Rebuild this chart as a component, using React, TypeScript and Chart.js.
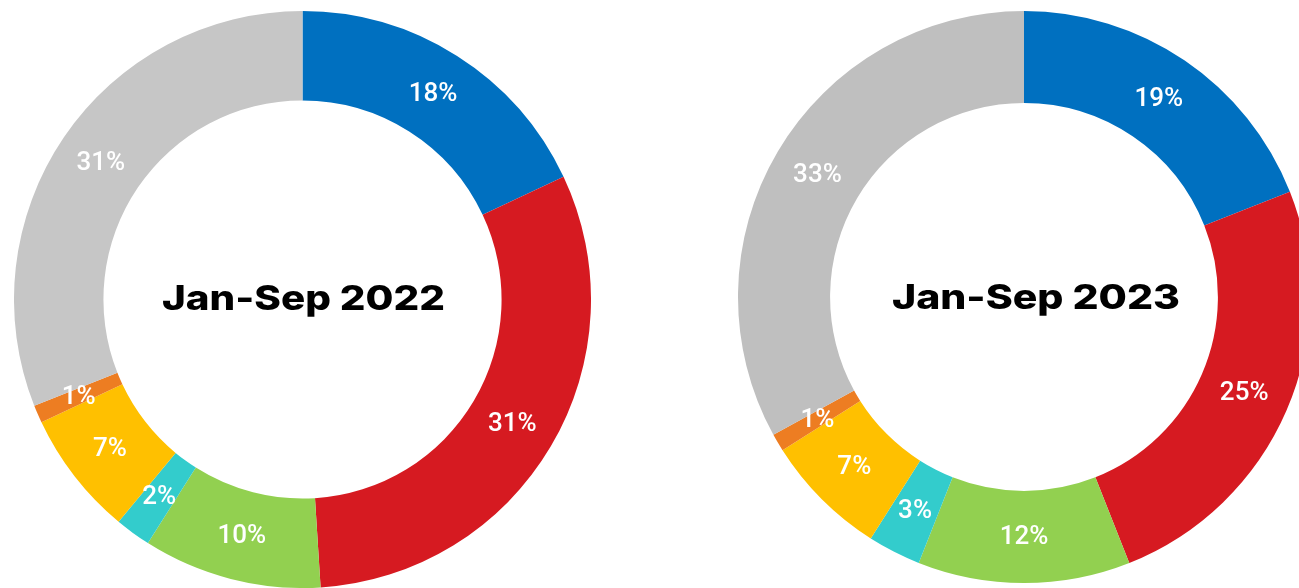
import React, { useEffect, useRef } from "react";
import { Chart, registerables } from "chart.js";

Chart.register(...registerables);

// ---- data ----
const categories = ["Segment 1", "Segment 2", "Segment 3", "Segment 4", "Segment 5", "Segment 6", "Segment 7"];
const values2022 = [18, 31, 10, 2, 7, 1, 31];
const values2023 = [19, 25, 12, 3, 7, 1, 33];
const titles = ["Jan-Sep 2022", "Jan-Sep 2023"];
const colors2022 = ["#0070C0", "#D61A21", "#92D050", "#33CCCC", "#FFC000", "#ED7D22", "#C6C6C6"];
const colors2023 = ["#0070C0", "#D61A21", "#92D050", "#33CCCC", "#FFC000", "#ED7D22", "#BFBFBF"];

const sliceLabelPlugin = {
  id: "sliceLabels",
  afterDatasetsDraw(chart: any) {
    const ctx = chart.ctx;
    const meta = chart.getDatasetMeta(0);
    const data = chart.data.datasets[0].data;
    ctx.save();
    ctx.fillStyle = "#FFFFFF";
    ctx.font = "500 26px Roboto, 'Noto Sans', sans-serif";
    ctx.textAlign = "center";
    ctx.textBaseline = "middle";
    meta.data.forEach((arc: any, i: number) => {
      const p = arc.tooltipPosition(false);
      ctx.fillText(`${data[i]}%`, p.x, p.y + 1);
    });
    ctx.restore();
  },
};

const centerTextPlugin = {
  id: "centerText",
  afterDraw(chart: any, _args: any, opts: any) {
    const ctx = chart.ctx;
    const meta = chart.getDatasetMeta(0);
    const arc = meta.data[0];
    if (!arc) return;
    const cx = arc.x + (opts.dx || 0);
    const cy = arc.y + (opts.dy || 0);
    ctx.save();
    ctx.fillStyle = "#000000";
    ctx.font = "800 34px Inter, 'DejaVu Sans', sans-serif";
    ctx.textAlign = "center";
    ctx.textBaseline = "alphabetic";
    const w = ctx.measureText(opts.text).width;
    const sx = opts.width ? opts.width / w : 1;
    ctx.translate(cx, cy);
    ctx.scale(sx, 1);
    ctx.fillText(opts.text, 0, 0);
    ctx.restore();
  },
};

type DonutProps = {
  values: number[];
  colors: string[];
  title: string;
  cutout: string;
  left: number;
  top: number;
  size: number;
  textWidth: number;
  textDx: number;
  textDy: number;
};

function Donut(props: DonutProps) {
  const ref = useRef<HTMLCanvasElement | null>(null);
  useEffect(() => {
    if (!ref.current) return;
    const chart = new Chart(ref.current, {
      type: "doughnut",
      data: {
        labels: categories,
        datasets: [
          {
            data: props.values,
            backgroundColor: props.colors,
            borderWidth: 0,
          },
        ],
      },
      options: {
        responsive: false,
        animation: false,
        devicePixelRatio: 1,
        cutout: props.cutout,
        rotation: 0,
        layout: { padding: 0 },
        plugins: {
          legend: { display: false },
          tooltip: { enabled: false },
          // @ts-ignore
          centerText: { text: props.title, width: props.textWidth, dx: props.textDx, dy: props.textDy },
        },
      } as any,
      plugins: [sliceLabelPlugin, centerTextPlugin],
    });
    return () => chart.destroy();
  }, []);
  return (
    <canvas
      ref={ref}
      width={props.size}
      height={props.size}
      style={{ position: "absolute", left: props.left, top: props.top, width: props.size, height: props.size }}
    />
  );
}

export default function App() {
  return (
    <div
      style={{
        position: "fixed",
        left: 0,
        top: 0,
        width: 1299,
        height: 588,
        overflow: "hidden",
        background: "#FFFFFF",
      }}
    >
      <Donut
        values={values2022}
        colors={colors2022}
        title={titles[0]}
        cutout="69%"
        left={14}
        top={11}
        size={577}
        textWidth={283}
        textDx={1}
        textDy={10}
      />
      <Donut
        values={values2023}
        colors={colors2023}
        title={titles[1]}
        cutout="67.8%"
        left={738}
        top={11}
        size={572}
        textWidth={288}
        textDx={12}
        textDy={12}
      />
    </div>
  );
}
